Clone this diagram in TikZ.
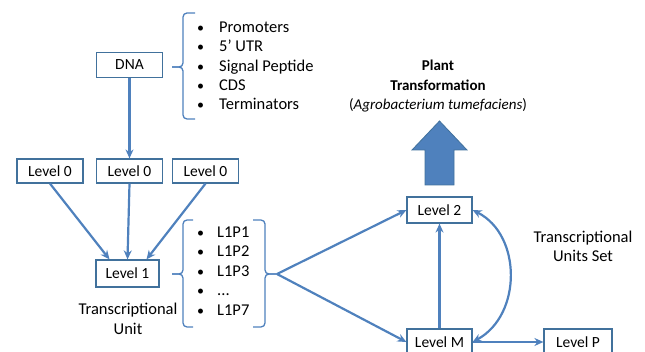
\documentclass[tikz,border=0pt]{standalone}
\usepackage{fontspec}
\setmainfont{Carlito}
\usetikzlibrary{arrows.meta}
\definecolor{lineblue}{HTML}{4F81BD}
\definecolor{boxblue}{HTML}{41719C}
\newcommand{\bul}{{\fontsize{14}{14}\selectfont\textbullet}}
\begin{document}
\begin{tikzpicture}[x=1pt,y=-1pt,
  box/.style={draw=boxblue, line width=1.2pt, fill=white, minimum width=66pt, minimum height=25pt, inner sep=0pt, font=\fontsize{15.5}{18}\selectfont},
  conn/.style={draw=lineblue, line width=2.2pt, -{Stealth[length=9pt,width=8pt]}},
  dconn/.style={draw=lineblue, line width=2.2pt, {Stealth[length=9pt,width=8pt]}-{Stealth[length=9pt,width=8pt]}},
  brc/.style={draw=lineblue, line width=1.3pt, rounded corners=4pt},
  lbl/.style={font=\fontsize{16.5}{19.5}\selectfont, align=center, inner sep=0pt},
  item/.style={font=\fontsize{16.5}{18}\selectfont, anchor=west, inner sep=0pt, text height=12pt, text depth=3pt},
]
\useasboundingbox (0,0) rectangle (645,352);
\clip (0,0) rectangle (645,352);

% boxes
\node[box] (dna) at (129.5,65) {DNA};
\node[box, minimum height=24pt] (l0a) at (50,171) {Level 0};
\node[box, minimum height=24pt] (l0b) at (129.5,171) {Level 0};
\node[box, minimum height=24pt] (l0c) at (205.5,171) {Level 0};
\node[box, minimum width=63pt, minimum height=27pt] (l1) at (127.5,273.5) {Level 1};
\node[box, minimum width=65pt, minimum height=26pt] (l2) at (439.5,210) {Level 2};
\node[box, minimum width=65pt, minimum height=26pt] (lm) at (439.5,342) {Level M};
\node[box, minimum width=68pt, minimum height=26pt] (lp) at (578,342) {Level P};

% first list
\node[item] (p1) at (197,28) {\makebox[22pt][l]{\bul}Promoters};
\node[item] (p2) at (197,47.5) {\makebox[22pt][l]{\bul}5’ UTR};
\node[item] (p3) at (197,67) {\makebox[22pt][l]{\bul}Signal Peptide};
\node[item] (p4) at (197,86) {\makebox[22pt][l]{\bul}CDS};
\node[item] (p5) at (197,105) {\makebox[22pt][l]{\bul}Terminators};
\draw[brc] (195,13) -- (183,13) -- (183,67) -- (172,67);
\draw[brc] (172,67) -- (183,67) -- (183,119) -- (195,119);

% second list
\node[item] (q1) at (197,233) {\makebox[20pt][l]{\bul}L1P1};
\node[item] (q2) at (197,252.5) {\makebox[20pt][l]{\bul}L1P2};
\node[item] (q3) at (197,272) {\makebox[20pt][l]{\bul}L1P3};
\node[item] (q4) at (197,291.5) {\makebox[20pt][l]{\bul}...};
\node[item] (q5) at (197,311) {\makebox[20pt][l]{\bul}L1P7};
\draw[brc] (193,220) -- (183,220) -- (183,274) -- (172,274);
\draw[brc] (172,274) -- (183,274) -- (183,327) -- (193,327);
\draw[brc] (253,220) -- (265,220) -- (265,274) -- (277,274);
\draw[brc] (277,274) -- (265,274) -- (265,327) -- (253,327);
\coordinate (tip) at (277,274);

% labels
\node[lbl] (tu) at (128,319) {Transcriptional\\Unit};
\node[lbl] (tus) at (583,246.5) {Transcriptional\\Units Set};
\node[lbl, font=\fontsize{15}{19.5}\selectfont] (pt) at (438,86.5) {\textbf{Plant}\\\textbf{Transformation}\\(\textit{Agrobacterium tumefaciens})};

% big arrow
\draw[fill=lineblue, draw=boxblue, line width=0.8pt, line join=miter]
  (425,185) -- (425,150) -- (412,150) -- (439.5,121) -- (467,150) -- (454,150) -- (454,185) -- cycle;

% connectors
\draw[conn] (dna) -- (l0b);
\draw[conn] (l0a.south) -- ([xshift=-18pt]l1.north);
\draw[conn] (l0b.south) -- (l1.north);
\draw[conn] (l0c.south) -- ([xshift=19pt]l1.north);
\draw[conn] (tip) -- (l2.west);
\draw[conn] (tip) -- (lm.west);
\draw[conn] (lm.north) -- (l2.south);
\draw[dconn] (l2.east) .. controls (522,235) and (522,315) .. (lm.east);
\draw[conn] (lm.east) -- (lp.west);
\end{tikzpicture}
\end{document}
